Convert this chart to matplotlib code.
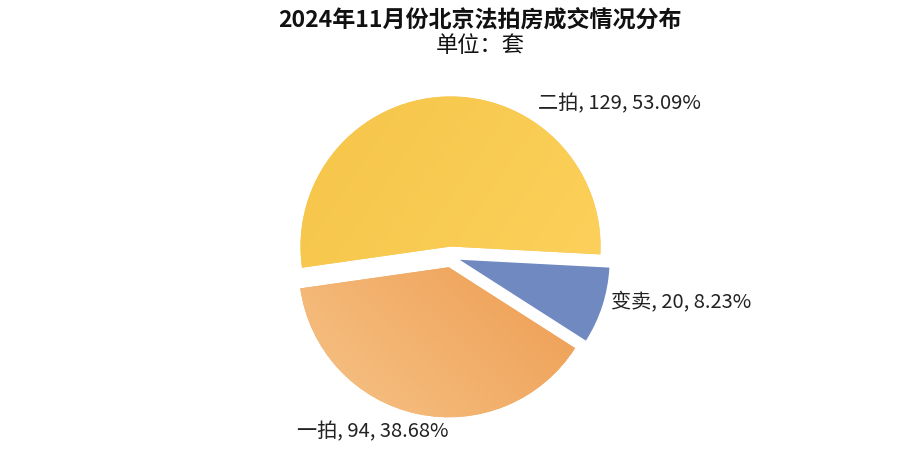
import numpy as np
import matplotlib
matplotlib.use("Agg")
import matplotlib.pyplot as plt

plt.rcParams['font.family'] = ['Noto Sans CJK SC', 'DejaVu Sans']

# data
categories = ["二拍", "一拍", "变卖"]
counts = [129, 94, 20]
percents = ["53.09%", "38.68%", "8.23%"]
colors = ["#F8C64A", "#F2AA62", "#7089C0"]
explode = [0.07, 0.07, 0.06]

W, H = 907, 462
fig = plt.figure(figsize=(W / 100, H / 100), dpi=100)
ax = fig.add_axes([0, 0, 1, 1])

# pie centre / radius in pixels
cx, cy, r = 451, 257, 150

wedges, _ = ax.pie(counts, colors=colors, explode=explode, startangle=-3,
                   counterclock=True, radius=1.0, wedgeprops=dict(linewidth=0))

# soft gradient on the orange slice
grad = np.linspace(0, 1, 256)
gx, gy = np.meshgrid(grad, grad)
g = (gx * 0.6 + gy * 0.4)
light = np.array([0.97, 0.78, 0.55])
dark = np.array([0.93, 0.60, 0.30])
img = light[None, None, :] * (1 - g[..., None]) + dark[None, None, :] * g[..., None]
im = ax.imshow(img, extent=(-1.1, 0.9, -1.2, 0.1), origin="lower", zorder=2,
               interpolation="bilinear")
im.set_clip_path(wedges[1])

# yellow slice subtle gradient
light_y = np.array([0.96, 0.77, 0.28])
dark_y = np.array([0.99, 0.82, 0.36])
gy2 = gx * 0.7 + (1 - gy) * 0.3
img_y = light_y[None, None, :] * (1 - gy2[..., None]) + dark_y[None, None, :] * gy2[..., None]
im2 = ax.imshow(img_y, extent=(-1.1, 1.1, -0.2, 1.2), origin="lower", zorder=2,
                interpolation="bilinear")
im2.set_clip_path(wedges[0])

ax.set_xlim(-cx / r, (W - cx) / r)
ax.set_ylim(-(H - cy) / r, cy / r)
ax.set_aspect("equal", adjustable="datalim")
ax.axis("off")

def lbl(i):
    return f"{categories[i]}, {counts[i]}, {percents[i]}"

fs = 14.5
ax.annotate(lbl(0), xy=(538 / W, 1 - 104 / H), xycoords="figure fraction",
            ha="left", va="center", fontsize=fs, color="#222222",
            bbox=dict(boxstyle="square,pad=0.2", fc="white", ec="none"), zorder=5)
ax.annotate(lbl(2), xy=(611 / W, 1 - 302 / H), xycoords="figure fraction",
            ha="left", va="center", fontsize=fs, color="#222222", zorder=5)
ax.annotate(lbl(1), xy=(297 / W, 1 - 432 / H), xycoords="figure fraction",
            ha="left", va="center", fontsize=fs, color="#222222", zorder=5)

fig.text(480 / W, 1 - 20 / H, "2024年11月份北京法拍房成交情况分布", ha="center", va="center",
         fontsize=16.6, fontweight="bold", color="#111111")
fig.text(480 / W, 1 - 46 / H, "单位：套", ha="center", va="center",
         fontsize=16, color="#111111")

fig.savefig("out.png", dpi=100)
